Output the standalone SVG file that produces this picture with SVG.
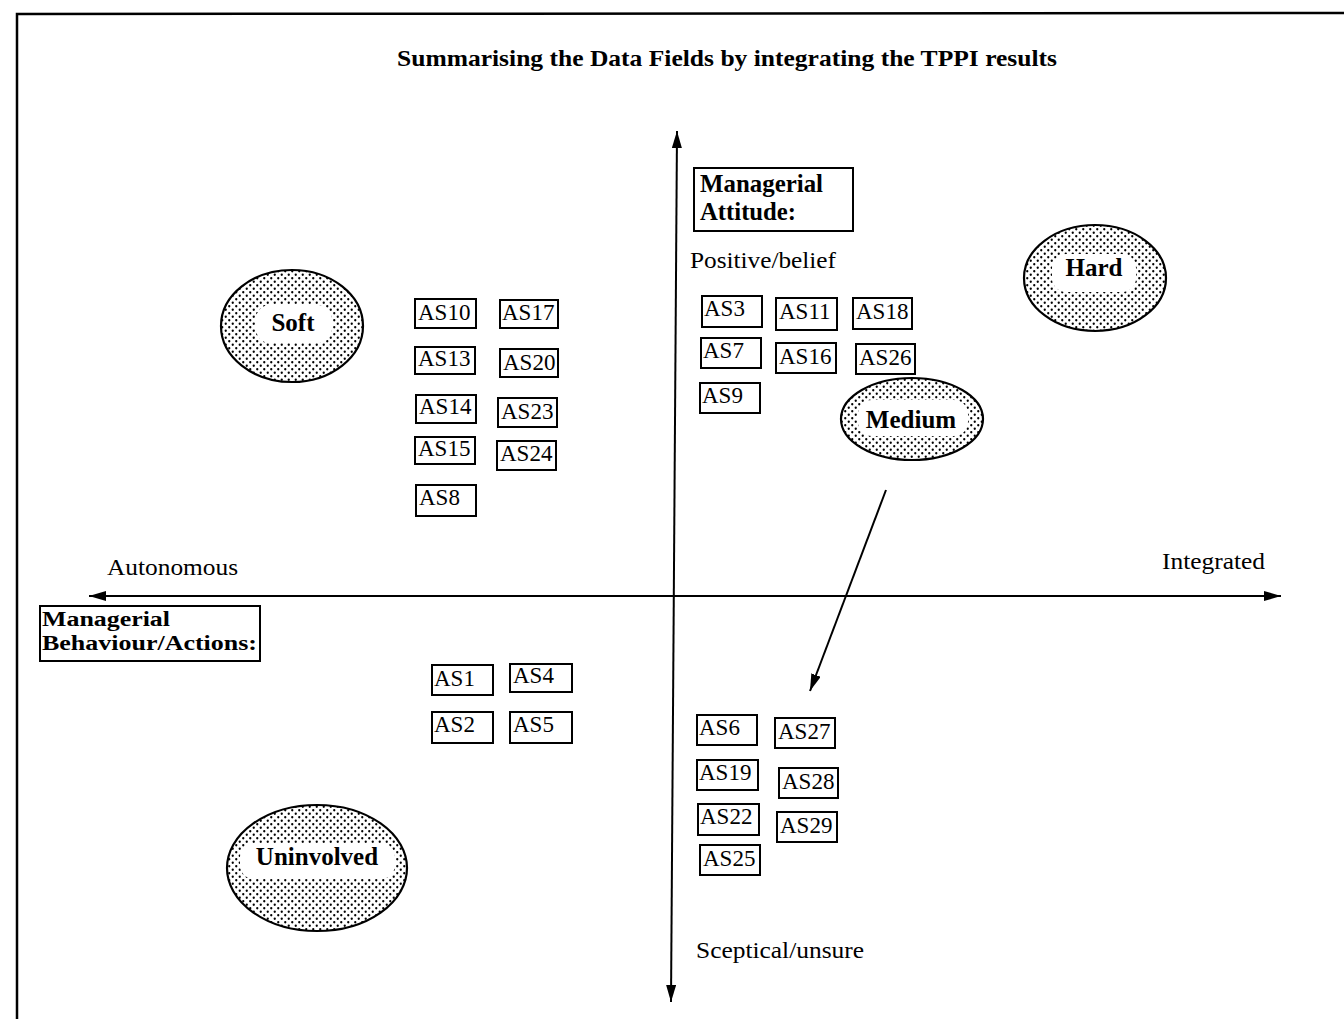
<svg xmlns="http://www.w3.org/2000/svg" width="1344" height="1019" viewBox="0 0 1344 1019">
  <style>
    .frame { fill: none; stroke: #000; stroke-width: 2.5; }
    .axis { fill: none; stroke: #000; stroke-width: 2; }
    .box rect { fill: #fff; stroke: #000; stroke-width: 2; }
    .box text { font-family: "Liberation Serif", "Times New Roman", serif; font-size: 23px; fill: #000; }
    .blob ellipse.shade { fill: url(#dots); stroke: #000; stroke-width: 2.2; }
    .blob rect { fill: #fff; stroke: none; }
    .blob text { font-family: "Liberation Serif", "Times New Roman", serif; font-size: 25px; font-weight: bold; fill: #000; text-anchor: middle; }
    .label { font-family: "Liberation Serif", "Times New Roman", serif; font-size: 24px; fill: #000; }
    .heading { font-family: "Liberation Serif", "Times New Roman", serif; font-size: 25px; font-weight: bold; fill: #000; }
    .heading.small { font-size: 20px; }
    .title { font-family: "Liberation Serif", "Times New Roman", serif; font-size: 23px; font-weight: bold; fill: #000; }
  </style>
  <defs>
    <pattern id="dots" width="7" height="7" patternUnits="userSpaceOnUse">
      <rect width="7" height="7" fill="#fff"/>
      <circle cx="1.75" cy="1.75" r="1.15" fill="#000"/>
      <circle cx="5.25" cy="5.25" r="1.15" fill="#000"/>
    </pattern>
    <marker id="head" markerUnits="userSpaceOnUse" markerWidth="18" markerHeight="12" refX="17" refY="5" orient="auto-start-reverse">
      <path d="M0,0 L17,5 L0,10 z" fill="#000"/>
    </marker>
  </defs>

  <rect width="1344" height="1019" fill="#fff"/>

  <!-- page frame (top and left edges) -->
  <path class="frame" d="M17,1019 L17,14 L1344,13"/>

  <text class="title" x="397" y="66" textLength="660" lengthAdjust="spacingAndGlyphs">Summarising the Data Fields by integrating the TPPI results</text>

  <!-- axis and pointer lines -->
  <g id="connectors">
    <line class="axis" x1="677" y1="131" x2="671" y2="1002" marker-start="url(#head)" marker-end="url(#head)"/>
    <line class="axis" x1="89" y1="596" x2="1281" y2="596" marker-start="url(#head)" marker-end="url(#head)"/>
    <line class="axis" x1="886" y1="490" x2="810" y2="691" marker-end="url(#head)"/>
  </g>

  <!-- axis captions -->
  <g id="attitude-heading">
    <rect x="694" y="168" width="159" height="63" fill="#fff" stroke="#000" stroke-width="2"/>
    <text class="heading" x="700" y="192" textLength="123" lengthAdjust="spacingAndGlyphs">Managerial</text>
    <text class="heading" x="700" y="220" textLength="96" lengthAdjust="spacingAndGlyphs">Attitude:</text>
  </g>
  <g id="behaviour-heading">
    <rect x="40" y="606" width="220" height="55" fill="#fff" stroke="#000" stroke-width="2"/>
    <text class="heading small" x="42" y="626" textLength="128" lengthAdjust="spacingAndGlyphs">Managerial</text>
    <text class="heading small" x="42" y="650" textLength="215" lengthAdjust="spacingAndGlyphs">Behaviour/Actions:</text>
  </g>
  <text class="label" x="690" y="268" textLength="146" lengthAdjust="spacingAndGlyphs">Positive/belief</text>
  <text class="label" x="696" y="958" textLength="168" lengthAdjust="spacingAndGlyphs">Sceptical/unsure</text>
  <text class="label" x="107" y="575" textLength="131" lengthAdjust="spacingAndGlyphs">Autonomous</text>
  <text class="label" x="1162" y="569" textLength="103" lengthAdjust="spacingAndGlyphs">Integrated</text>

  <!-- style clusters -->
  <g id="soft" class="blob">
    <ellipse class="shade" cx="292" cy="326" rx="71" ry="56"/>
    <rect x="256" y="305" width="76" height="38" rx="14"/>
    <text x="293" y="331">Soft</text>
  </g>
  <g id="hard" class="blob">
    <ellipse class="shade" cx="1095" cy="278" rx="71" ry="53"/>
    <rect x="1052" y="254" width="84" height="38" rx="14"/>
    <text x="1094" y="276">Hard</text>
  </g>
  <g id="medium" class="blob">
    <ellipse class="shade" cx="912" cy="419" rx="71" ry="41"/>
    <rect x="858" y="400" width="110" height="36" rx="14"/>
    <text x="911" y="428">Medium</text>
  </g>
  <g id="uninvolved" class="blob">
    <ellipse class="shade" cx="317" cy="868" rx="90" ry="63"/>
    <rect x="240" y="843" width="155" height="36" rx="14"/>
    <text x="317" y="865">Uninvolved</text>
  </g>

  <!-- case boxes -->
  <g id="as10" class="box"><rect x="415" y="299" width="61" height="29"/><text x="418" y="320">AS10</text></g>
  <g id="as17" class="box"><rect x="500" y="300" width="58" height="28"/><text x="502" y="320">AS17</text></g>
  <g id="as13" class="box"><rect x="415" y="347" width="60" height="27"/><text x="418" y="366">AS13</text></g>
  <g id="as20" class="box"><rect x="500" y="349" width="58" height="28"/><text x="503" y="370">AS20</text></g>
  <g id="as14" class="box"><rect x="416" y="395" width="60" height="28"/><text x="419" y="414">AS14</text></g>
  <g id="as23" class="box"><rect x="498" y="398" width="59" height="29"/><text x="501" y="419">AS23</text></g>
  <g id="as15" class="box"><rect x="415" y="437" width="60" height="27"/><text x="418" y="456">AS15</text></g>
  <g id="as24" class="box"><rect x="497" y="441" width="59" height="29"/><text x="500" y="461">AS24</text></g>
  <g id="as8" class="box"><rect x="416" y="485" width="60" height="31"/><text x="419" y="505">AS8</text></g>

  <g id="as3" class="box"><rect x="702" y="296" width="60" height="31"/><text x="704" y="316">AS3</text></g>
  <g id="as11" class="box"><rect x="776" y="298" width="61" height="32"/><text x="779" y="319">AS11</text></g>
  <g id="as18" class="box"><rect x="853" y="298" width="59" height="31"/><text x="856" y="319">AS18</text></g>
  <g id="as7" class="box"><rect x="701" y="338" width="60" height="30"/><text x="703" y="358">AS7</text></g>
  <g id="as16" class="box"><rect x="776" y="343" width="60" height="30"/><text x="779" y="364">AS16</text></g>
  <g id="as26" class="box"><rect x="856" y="344" width="59" height="30"/><text x="859" y="365">AS26</text></g>
  <g id="as9" class="box"><rect x="700" y="383" width="60" height="30"/><text x="702" y="403">AS9</text></g>

  <g id="as1" class="box"><rect x="432" y="665" width="61" height="30"/><text x="434" y="686">AS1</text></g>
  <g id="as4" class="box"><rect x="510" y="664" width="62" height="28"/><text x="513" y="683">AS4</text></g>
  <g id="as2" class="box"><rect x="432" y="712" width="61" height="31"/><text x="434" y="732">AS2</text></g>
  <g id="as5" class="box"><rect x="510" y="712" width="62" height="31"/><text x="513" y="732">AS5</text></g>

  <g id="as6" class="box"><rect x="697" y="715" width="60" height="30"/><text x="699" y="735">AS6</text></g>
  <g id="as27" class="box"><rect x="775" y="718" width="60" height="30"/><text x="778" y="739">AS27</text></g>
  <g id="as19" class="box"><rect x="697" y="760" width="61" height="30"/><text x="699" y="780">AS19</text></g>
  <g id="as28" class="box"><rect x="779" y="768" width="59" height="30"/><text x="782" y="789">AS28</text></g>
  <g id="as22" class="box"><rect x="698" y="804" width="61" height="31"/><text x="700" y="824">AS22</text></g>
  <g id="as29" class="box"><rect x="777" y="812" width="60" height="30"/><text x="780" y="833">AS29</text></g>
  <g id="as25" class="box"><rect x="700" y="845" width="60" height="30"/><text x="703" y="866">AS25</text></g>
</svg>
